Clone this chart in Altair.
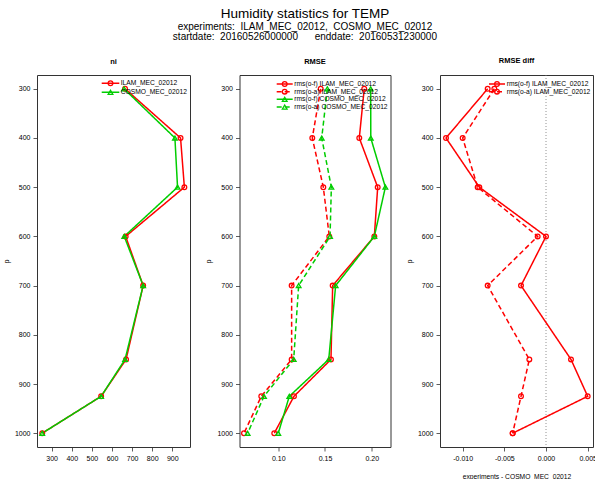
import altair as alt
import pandas as pd

# ---------------- data ----------------
levels = [300, 400, 500, 600, 700, 850, 925, 1000]

ni_names = ["ILAM_MEC_02012", "COSMO_MEC_02012"]
ni_ilam = [665, 941, 960, 668, 755, 670, 546, 253]
ni_cosmo = [660, 913, 926, 661, 755, 665, 546, 253]

rmse_names = ["rms(o-f) ILAM_MEC_02012", "rms(o-a) ILAM_MEC_02012",
              "rms(o-f) COSMO_MEC_02012", "rms(o-a) COSMO_MEC_02012"]
rmse_of_ilam = [0.192, 0.1867, 0.2064, 0.2028, 0.1582, 0.1564, 0.1168, 0.0957]
rmse_oa_ilam = [0.1454, 0.1364, 0.1482, 0.1546, 0.1143, 0.1143, 0.0818, 0.0633]
rmse_of_cosmo = [0.1989, 0.199, 0.2146, 0.2028, 0.1614, 0.154, 0.1118, 0.100]
rmse_oa_cosmo = [0.1525, 0.1465, 0.1568, 0.1554, 0.1218, 0.1165, 0.0847, 0.0672]

diff_names = ["rms(o-f) ILAM_MEC_02012", "rms(o-a) ILAM_MEC_02012"]
diff_of = [-0.0070, -0.0120, -0.0080, 0.0000, -0.0030, 0.0030, 0.0050, -0.0040]
diff_oa = [-0.0062, -0.0100, -0.0082, -0.0010, -0.0070, -0.0020, -0.0030, -0.0040]

y_ticks = [300, 400, 500, 600, 700, 800, 900, 1000]
ni_ticks = [300, 400, 500, 600, 700, 800, 900]
rmse_ticks = [0.10, 0.15, 0.20]
diff_ticks = [-0.010, -0.005, 0.000, 0.005]

title_text = "Humidity statistics for TEMP"
subtitle_lines = ["experiments:\u00a0\u00a0ILAM_MEC_02012,\u00a0\u00a0COSMO_MEC_02012",
                  "startdate:\u00a0\u00a020160526000000\u00a0\u00a0\u00a0\u00a0\u00a0\u00a0enddate:\u00a0\u00a020160531230000"]

# ---------------- style ----------------
FONT = "Liberation Sans"
RED = "#FF0000"
GREEN = "#00CD00"
SOLID = [1, 0]
DASH = [5, 3]
Y_DOMAIN = [272, 1028]
H = 372


def make_panel(title, names, values, colors, dashes, shapes, xdomain, xticks,
               xfmt, width, leg, xtitle=None, zero_rule=False):
    rows = []
    for n, vals in zip(names, values):
        for p, v in zip(levels, vals):
            rows.append({"p": p, "v": v, "s": n})
    df = pd.DataFrame(rows)

    xs = alt.Scale(domain=xdomain, nice=False, zero=False)
    ys = alt.Scale(domain=Y_DOMAIN, reverse=True, nice=False, zero=False)
    cs = alt.Scale(domain=names, range=colors)
    ds = alt.Scale(domain=names, range=dashes)
    ss = alt.Scale(domain=names, range=shapes)

    lab = ("datum.value < 0 ? '-' + format(-datum.value, '%s') : format(datum.value, '%s')"
           % (xfmt, xfmt))
    x_axis = alt.Axis(values=xticks, labelExpr=lab, titlePadding=12, labelOverlap=False)
    y_axis = alt.Axis(values=y_ticks, format="d", titlePadding=5, labelOverlap=False)
    x_enc = alt.X("v:Q", scale=xs, title=xtitle, axis=x_axis)
    y_enc = alt.Y("p:Q", scale=ys, title="p", axis=y_axis)
    col = alt.Color("s:N", scale=cs, legend=None)
    dash = alt.StrokeDash("s:N", scale=ds, legend=None)
    shp = alt.Shape("s:N", scale=ss, legend=None)

    base = alt.Chart(df)
    layers = []
    if zero_rule:
        layers.append(alt.Chart(pd.DataFrame({"z": [0.0]})).mark_rule(
            color="#777", strokeDash=[1, 2], strokeWidth=0.8).encode(
            x=alt.X("z:Q", scale=xs, title=xtitle, axis=x_axis)))
    layers.append(base.mark_line(strokeWidth=1.5).encode(
        x=x_enc, y=y_enc, color=col, strokeDash=dash, order="p:Q", detail="s:N"))
    layers.append(base.mark_point(filled=False, strokeWidth=1.3, size=22, opacity=1).encode(
        x=x_enc, y=y_enc, color=col, shape=shp))

    # R-style legend inside the plot (top right)
    ly0, ldy, lx0, lx1, ltx = leg
    legdf = pd.DataFrame({"s": names, "ly": [ly0 + i * ldy for i in range(len(names))]})
    lb = alt.Chart(legdf)
    layers.append(lb.mark_rule(strokeWidth=1.5).encode(
        x=alt.value(lx0), x2=alt.value(lx1), y=alt.Y("ly:Q", scale=None, axis=None),
        color=col, strokeDash=dash))
    layers.append(lb.mark_point(filled=False, strokeWidth=1.3, size=22, opacity=1).encode(
        x=alt.value((lx0 + lx1) / 2), y=alt.Y("ly:Q", scale=None, axis=None),
        color=col, shape=shp))
    layers.append(lb.mark_text(align="left", baseline="middle", fontSize=6.7,
                               font=FONT, color="black").encode(
        x=alt.value(ltx), y=alt.Y("ly:Q", scale=None, axis=None), text="s:N"))

    return alt.layer(*layers).properties(
        width=width, height=H,
        title=alt.TitleParams(title, fontSize=7.5, fontWeight="bold", font=FONT,
                              baseline="bottom", offset=2, anchor="middle"))


p1 = make_panel("ni", ni_names, [ni_ilam, ni_cosmo], [RED, GREEN], [SOLID, SOLID],
                ["circle", "triangle-up"], [227, 988], ni_ticks, "d", 153,
                (8.3, 9.0, 64.7, 82.3, 83.7))
p2 = make_panel("RMSE", rmse_names, [rmse_of_ilam, rmse_oa_ilam, rmse_of_cosmo, rmse_oa_cosmo],
                [RED, RED, GREEN, GREEN], [SOLID, DASH, SOLID, DASH],
                ["circle", "circle", "triangle-up", "triangle-up"],
                [0.0585, 0.2201], rmse_ticks, ".2f", 151,
                (9.0, 7.67, 37.2, 53.2, 54.8))
p3 = make_panel("RMSE diff", diff_names, [diff_of, diff_oa], [RED, RED], [SOLID, DASH],
                ["circle", "circle"], [-0.01272, 0.00564], diff_ticks, ".3f", 153,
                (9.0, 7.67, 49.0, 65.0, 66.7),
                xtitle="experiments - COSMO_MEC_02012", zero_rule=True)

chart = alt.hconcat(p1, p2, p3, spacing=49.5, bounds="flush").resolve_scale(
    x="independent", y="independent", color="independent",
    strokeDash="independent", shape="independent"
).properties(
    title=alt.TitleParams(title_text, subtitle=subtitle_lines, anchor="middle",
                          fontSize=13.5, fontWeight="normal", font=FONT, color="black",
                          subtitleFont=FONT, subtitleFontSize=10, subtitleColor="black",
                          subtitleLineHeight=9.5, subtitlePadding=2, offset=15, dx=5),
    padding={"left": 37, "top": 75, "right": 558, "bottom": 404},
    autosize=alt.AutoSizeParams(type="none"),
    background="white",
).configure_view(stroke="#333", strokeWidth=1).configure_axis(
    grid=False, domain=False, tickSize=4, tickColor="#333", tickWidth=0.8,
    labelFont=FONT, labelFontSize=7, labelColor="black", labelPadding=3,
    titleFont=FONT, titleFontSize=6.7, titleFontWeight="normal", titleColor="black",
    labelOverlap=False
)

chart.save("out.html", embed_options={"renderer": "svg", "actions": False})
